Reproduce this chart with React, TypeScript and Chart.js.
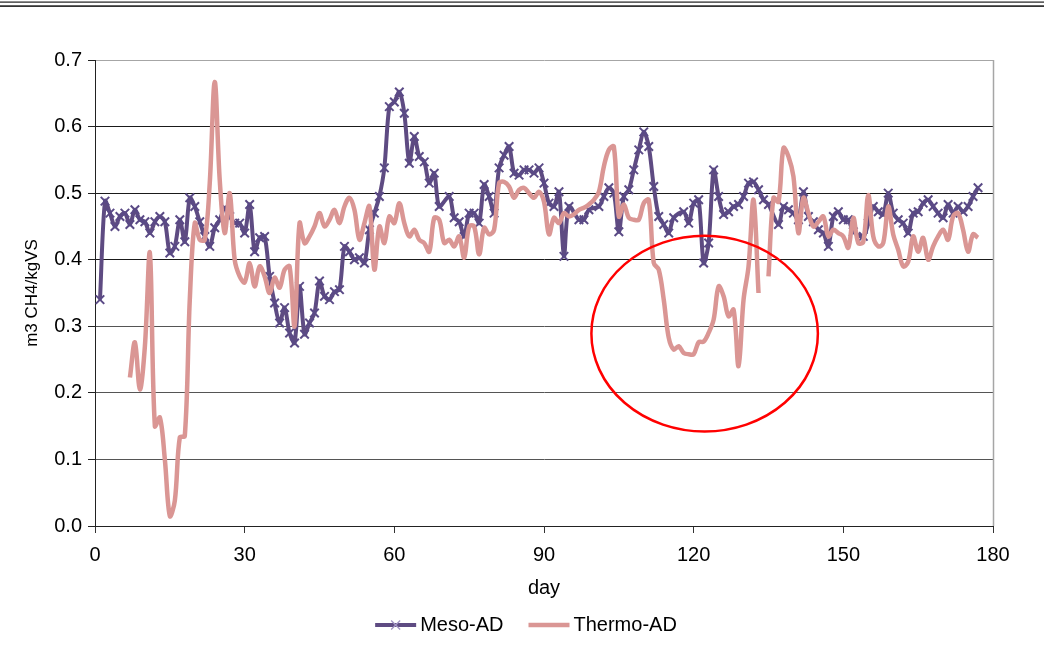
import React, { useEffect, useRef } from "react";
import { Chart, registerables } from "chart.js";

Chart.register(...registerables);

// ---------- data ----------
const seriesNames = ["Meso-AD", "Thermo-AD"];

const mesoDays = [
  1, 2, 3, 4, 5, 6, 7, 8, 9, 10, 11, 12, 13, 14, 15, 16, 17, 18, 19, 20,
  21, 22, 23, 24, 25, 26, 27, 28, 29, 30, 31, 32, 33, 34, 35, 36, 37, 38, 39, 40,
  41, 42, 43, 44, 45, 46, 47, 48, 49, 50, 51, 52, 53, 54, 55, 56, 57, 58, 59, 60,
  61, 62, 63, 64, 65, 66, 67, 68, 69, 71, 72, 73, 74, 75, 76, 77, 78, 79, 80, 81,
  82, 83, 84, 85, 86, 87, 88, 89, 90, 91, 92, 93, 94, 95, 97, 98, 99, 101, 102, 103,
  104, 105, 106, 107, 108, 109, 110, 111, 112, 113, 114, 115, 116, 118, 119, 120, 121, 122, 123, 124,
  125, 126, 127, 128, 129, 130, 131, 132, 133, 134, 135, 137, 138, 139, 140, 141, 142, 143, 144, 145,
  146, 147, 148, 149, 150, 151, 152, 154, 155, 156, 157, 158, 159, 160, 161, 162, 163, 164, 165, 166,
  167, 168, 169, 170, 171, 172, 173, 174, 175, 176, 177,
];
const mesoValues = [
  0.34, 0.488, 0.47, 0.45, 0.465, 0.47, 0.453, 0.475, 0.46, 0.457, 0.44, 0.457, 0.465, 0.457, 0.41, 0.42, 0.46, 0.427, 0.493, 0.48,
  0.457, 0.435, 0.42, 0.448, 0.46, 0.478, 0.465, 0.455, 0.455, 0.44, 0.483, 0.412, 0.433, 0.435, 0.375, 0.335, 0.305, 0.328, 0.29, 0.275,
  0.36, 0.288, 0.305, 0.32, 0.368, 0.345, 0.34, 0.352, 0.355, 0.42, 0.412, 0.4, 0.403, 0.395, 0.445, 0.47, 0.495, 0.538, 0.63, 0.637,
  0.652, 0.62, 0.545, 0.585, 0.555, 0.547, 0.515, 0.53, 0.48, 0.495, 0.463, 0.457, 0.435, 0.47, 0.47, 0.455, 0.513, 0.495, 0.47, 0.538,
  0.557, 0.57, 0.53, 0.527, 0.535, 0.535, 0.53, 0.538, 0.515, 0.485, 0.48, 0.502, 0.405, 0.48, 0.46, 0.46, 0.475, 0.48, 0.495, 0.508,
  0.5, 0.442, 0.495, 0.505, 0.535, 0.565, 0.592, 0.57, 0.51, 0.465, 0.453, 0.44, 0.463, 0.472, 0.455, 0.485, 0.49, 0.395, 0.425, 0.535,
  0.495, 0.468, 0.472, 0.48, 0.483, 0.495, 0.515, 0.517, 0.505, 0.49, 0.483, 0.453, 0.48, 0.475, 0.47, 0.46, 0.502, 0.465, 0.457, 0.445,
  0.44, 0.42, 0.465, 0.472, 0.46, 0.46, 0.442, 0.435, 0.455, 0.48, 0.472, 0.468, 0.5, 0.47, 0.46, 0.455, 0.44, 0.47, 0.472, 0.485,
  0.49, 0.48, 0.47, 0.463, 0.483, 0.47, 0.48, 0.472, 0.48, 0.495, 0.508,
];

const thermoDays = [
  7, 8, 9, 10, 11, 12, 13, 14, 15, 16, 17, 18, 19, 20, 21, 22, 23, 24, 25, 26,
  27, 28, 29, 30, 31, 32, 33, 34, 35, 36, 37, 38, 39, 40, 41, 42, 43, 44, 45, 46,
  47, 48, 49, 50, 51, 52, 53, 54, 55, 56, 57, 58, 59, 60, 61, 62, 63, 64, 65, 66,
  67, 68, 69, 70, 71, 72, 73, 74, 75, 76, 77, 78, 79, 80, 81, 82, 83, 84, 85, 86,
  87, 88, 89, 90, 91, 92, 93, 94, 95, 96, 97, 98, 99, 100, 101, 102, 103, 104, 105, 106,
  107, 108, 109, 110, 111, 112, 113, 114, 115, 116, 117, 118, 119, 120, 121, 122, 123, 124, 125, 126,
  127, 128, 129, 130, 131, 132, 133, 134, 135, 136, 137, 138, 139, 140, 141, 142, 143, 144, 145, 146,
  147, 148, 149, 150, 151, 152, 153, 154, 155, 156, 157, 158, 159, 160, 161, 162, 163, 164, 165, 166,
  167, 168, 169, 170, 171, 172, 173, 174, 175, 176, 177,
];
const thermoValues: (number | null)[] = [
  0.223, 0.276, 0.205, 0.27, 0.41, 0.15, 0.163, 0.1, 0.015, 0.038, 0.133, 0.135, 0.34, 0.455, 0.43, 0.43, 0.515, 0.667, 0.52, 0.44,
  0.5, 0.4, 0.375, 0.366, 0.395, 0.36, 0.39, 0.375, 0.35, 0.373, 0.358, 0.385, 0.39, 0.3, 0.455, 0.425, 0.435, 0.45, 0.47, 0.45,
  0.46, 0.475, 0.455, 0.48, 0.493, 0.475, 0.43, 0.455, 0.48, 0.385, 0.45, 0.425, 0.465, 0.455, 0.485, 0.455, 0.435, 0.445, 0.43, 0.425,
  0.412, 0.463, 0.46, 0.425, 0.43, 0.42, 0.435, 0.403, 0.45, 0.45, 0.408, 0.448, 0.438, 0.445, 0.515, 0.517, 0.51, 0.493, 0.505, 0.508,
  0.5, 0.493, 0.502, 0.487, 0.438, 0.463, 0.455, 0.47, 0.465, 0.468, 0.475, 0.478, 0.483, 0.49, 0.502, 0.54, 0.565, 0.57, 0.465, 0.483,
  0.463, 0.46, 0.46, 0.485, 0.49, 0.395, 0.385, 0.34, 0.283, 0.265, 0.27, 0.26, 0.258, 0.258, 0.276, 0.277, 0.29, 0.31, 0.36, 0.345,
  0.315, 0.325, 0.24, 0.34, 0.39, 0.49, 0.35, null, 0.375, 0.493, 0.487, 0.568, 0.555, 0.525, 0.44, 0.493, 0.47, 0.45, 0.457, 0.465,
  0.435, 0.445, 0.44, 0.435, 0.418, 0.463, 0.425, 0.427, 0.497, 0.435, 0.42, 0.425, 0.48, 0.438, 0.415, 0.39, 0.397, 0.435, 0.412, 0.433,
  0.4, 0.42, 0.435, 0.445, 0.43, 0.465, 0.47, 0.445, 0.412, 0.438, 0.433,
];

const xTickValues = [0, 30, 60, 90, 120, 150, 180];
const yTickValues = [0, 0.1, 0.2, 0.3, 0.4, 0.5, 0.6, 0.7];
const xTitle = "day";
const yTitle = "m3 CH4/kgVS";

// annotation ellipse (data units)
const ellipseCenterDay = 122.2;
const ellipseCenterValue = 0.289;
const ellipseRadiusDays = 22.7;
const ellipseRadiusValue = 0.147;

// ---------- styles ----------
const FONT = '"Liberation Sans", Arial, sans-serif';
const MESO_COLOR = "#5E4B82";
const MESO_LEGEND_MARK = "#A294C4";
const THERMO_COLOR = "#DA9694";

const decorPlugin = {
  id: "decor",
  beforeDraw(chart: any) {
    const { ctx, width } = chart;
    ctx.save();
    ctx.fillStyle = "#ffffff";
    ctx.fillRect(0, 0, chart.width, chart.height);
    ctx.fillStyle = "#1e1e1e";
    ctx.fillRect(0, 1.5, width, 1.2);
    ctx.fillRect(0, 5.3, width, 1.6);
    ctx.restore();
  },
  afterDatasetsDraw(chart: any) {
    const { ctx, chartArea, scales } = chart;
    const xs = scales.x;
    const ys = scales.y;
    ctx.save();
    ctx.strokeStyle = "#a6a6a6";
    ctx.lineWidth = 1.5;
    ctx.beginPath();
    ctx.moveTo(chartArea.right + 0.5, chartArea.top);
    ctx.lineTo(chartArea.right + 0.5, chartArea.bottom);
    ctx.stroke();

    const cx = xs.getPixelForValue(ellipseCenterDay);
    const cy = ys.getPixelForValue(ellipseCenterValue);
    const rx = xs.getPixelForValue(ellipseCenterDay + ellipseRadiusDays) - cx;
    const ry = cy - ys.getPixelForValue(ellipseCenterValue + ellipseRadiusValue);
    ctx.strokeStyle = "#FF0000";
    ctx.lineWidth = 2.5;
    ctx.beginPath();
    ctx.ellipse(cx, cy, rx, ry, 0, 0, Math.PI * 2);
    ctx.stroke();
    ctx.restore();
  },
  afterDraw(chart: any) {
    const { ctx } = chart;
    ctx.save();
    ctx.font = `20px ${FONT}`;
    ctx.textBaseline = "middle";
    ctx.fillStyle = "#000";
    const w1 = ctx.measureText(seriesNames[0]).width;
    const w2 = ctx.measureText(seriesNames[1]).width;
    const lineLen = 41;
    const gapText = 4;
    const gapItems = 25;
    const total = lineLen + gapText + w1 + gapItems + lineLen + gapText + w2;
    let x = chart.width / 2 + 4 - total / 2;
    const y = 625;
    ctx.strokeStyle = MESO_COLOR;
    ctx.lineWidth = 4;
    ctx.beginPath();
    ctx.moveTo(x, y);
    ctx.lineTo(x + lineLen, y);
    ctx.stroke();
    const mx = x + lineLen / 2;
    ctx.strokeStyle = MESO_LEGEND_MARK;
    ctx.lineWidth = 1.3;
    ctx.beginPath();
    ctx.moveTo(mx - 4.5, y - 4.5);
    ctx.lineTo(mx + 4.5, y + 4.5);
    ctx.moveTo(mx - 4.5, y + 4.5);
    ctx.lineTo(mx + 4.5, y - 4.5);
    ctx.stroke();
    x += lineLen + gapText;
    ctx.fillText(seriesNames[0], x, y);
    x += w1 + gapItems;
    ctx.strokeStyle = THERMO_COLOR;
    ctx.lineWidth = 4.5;
    ctx.beginPath();
    ctx.moveTo(x, y);
    ctx.lineTo(x + lineLen, y);
    ctx.stroke();
    x += lineLen + gapText;
    ctx.fillText(seriesNames[1], x, y);
    ctx.restore();
  },
};

export default function App() {
  const canvasRef = useRef<HTMLCanvasElement | null>(null);

  useEffect(() => {
    if (!canvasRef.current) return;
    const mesoData = mesoDays.map((d, i) => ({ x: d, y: mesoValues[i] }));
    const thermoData = thermoDays.map((d, i) => ({ x: d, y: thermoValues[i] }));

    const chart = new Chart(canvasRef.current, {
      type: "line",
      data: {
        datasets: [
          {
            label: seriesNames[0],
            data: mesoData as any,
            borderColor: MESO_COLOR,
            backgroundColor: MESO_COLOR,
            borderWidth: 4,
            tension: 0.3,
            pointStyle: "crossRot",
            pointRadius: 6,
            pointBorderWidth: 2,
            pointBorderColor: "#5A4A86",
            order: 2,
          },
          {
            label: seriesNames[1],
            data: thermoData as any,
            borderColor: THERMO_COLOR,
            backgroundColor: THERMO_COLOR,
            borderWidth: 4.5,
            tension: 0.35,
            pointRadius: 0,
            spanGaps: false,
            order: 1,
          },
        ],
      },
      options: {
        responsive: false,
        animation: false,
        devicePixelRatio: 1,
        layout: { padding: { top: 60, right: 51, bottom: 51, left: 0 } },
        plugins: {
          legend: { display: false },
          tooltip: { enabled: false },
        },
        scales: {
          x: {
            type: "linear",
            min: 0,
            max: 180,
            afterBuildTicks: (s: any) => {
              s.ticks = xTickValues.map((v) => ({ value: v }));
            },
            afterFit: (s: any) => {
              s.height = 74;
            },
            ticks: {
              color: "#000",
              font: { family: FONT, size: 20 },
              padding: 10,
              maxRotation: 0,
              autoSkip: false,
            },
            grid: {
              drawOnChartArea: false,
              drawTicks: true,
              tickLength: 7,
              tickColor: "#333",
            },
            border: { display: true, color: "#222", width: 1 },
            title: {
              display: true,
              text: xTitle,
              color: "#000",
              font: { family: FONT, size: 20 },
              padding: { top: 0, bottom: 0 },
            },
          },
          y: {
            type: "linear",
            min: 0,
            max: 0.7,
            afterBuildTicks: (s: any) => {
              s.ticks = yTickValues.map((v) => ({ value: v }));
            },
            afterFit: (s: any) => {
              s.width = 95;
            },
            ticks: {
              color: "#000",
              font: { family: FONT, size: 20 },
              padding: 6,
              callback: (v: any) => Number(v).toFixed(1),
            },
            grid: {
              drawTicks: true,
              tickLength: 7,
              tickColor: "#222",
              lineWidth: 1,
              color: (ctx: any) => {
                const v = ctx.tick ? ctx.tick.value : 0;
                if (v > 0.65) return "#a6a6a6";
                if (v > 0.35) return "#1a1a1a";
                return "#555555";
              },
            },
            border: { display: true, color: "#222", width: 1 },
            title: {
              display: true,
              text: yTitle,
              color: "#000",
              font: { family: FONT, size: 17 },
              padding: { top: 22, bottom: 0 },
            },
          },
        },
      },
      plugins: [decorPlugin],
    });
    return () => chart.destroy();
  }, []);

  return (
    <div style={{ position: "fixed", left: 0, top: 0, width: 1044, height: 651, background: "#fff" }}>
      <canvas ref={canvasRef} width={1044} height={651} style={{ display: "block", width: 1044, height: 651 }} />
    </div>
  );
}
